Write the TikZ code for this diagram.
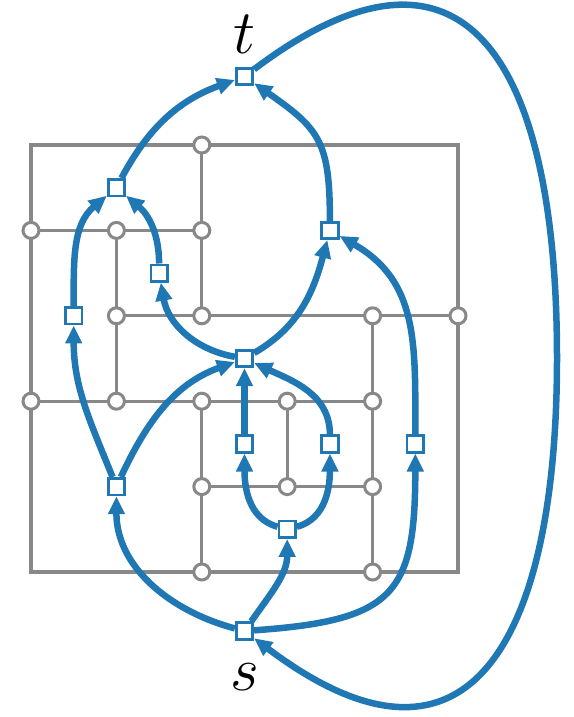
\documentclass[tikz,border=0pt]{standalone}
\usetikzlibrary{arrows.meta}
\definecolor{mblue}{HTML}{1F77B4}
\definecolor{mgray}{HTML}{888888}
\begin{document}
\begin{tikzpicture}[x=1pt,y=1pt,
  gridline/.style={mgray, line width=3.2pt},
  vtx/.style={circle, draw=mgray, fill=white, line width=3pt, minimum size=16pt, inner sep=0pt},
  sq/.style={rectangle, draw=mblue, fill=white, line width=2.7pt, minimum size=16.5pt, inner sep=0pt},
  edge/.style={draw=mblue, line width=6.5pt, -{Triangle[length=18pt,width=16pt]}},
  lab/.style={font=\fontsize{24.88}{26}\selectfont, inner sep=0pt}
]
\useasboundingbox (0,0) rectangle (573,-717);
% grid points
\foreach \i in {0,...,5}
  \foreach \j in {0,...,5}
    \coordinate (g\i\j) at ({31+85.4*\i},{-145-85.4*\j});
% gray lines
\draw[gridline] (g00) rectangle (g55);
\draw[gridline] (g01) -- (g21);
\draw[gridline] (g20) -- (g22);
\draw[gridline] (g11) -- (g13);
\draw[gridline] (g12) -- (g52);
\draw[gridline] (g03) -- (g43);
\draw[gridline] (g23) -- (g25);
\draw[gridline] (g42) -- (g45);
\draw[gridline] (g33) -- (g34);
\draw[gridline] (g24) -- (g44);
% gray vertices
\foreach \p in {20,01,11,21,12,22,42,52,03,13,23,33,43,24,34,44,25,45}
  \node[vtx] (v\p) at (g\p) {};
% blue vertices
\node[sq] (t) at (244.5,-76.5) {};
\node[sq] (A) at (116.4,-187.7) {};
\node[sq] (B) at (159.1,-273.1) {};
\node[sq] (C) at (73.7,-315.8) {};
\node[sq] (D) at (329.9,-230.4) {};
\node[sq] (M) at (244.5,-358.5) {};
\node[sq] (E) at (116.4,-486.6) {};
\node[sq] (F) at (244.5,-443.9) {};
\node[sq] (G) at (329.9,-443.9) {};
\node[sq] (H) at (287.2,-529.3) {};
\node[sq] (I) at (415.3,-443.9) {};
\node[sq] (s) at (244.5,-631) {};
\coordinate (r) at (557,-358);
% labels
\node[lab, anchor=base] (tl) at (244.5,-53) {\scalebox{2.5}{$t$}};
\node[lab, anchor=base] (sl) at (245,-690) {\scalebox{2.5}{$s$}};
% blue edges
\draw[edge] (A) to[out=62,in=200] (t);
\draw[edge] (D) to[out=90,in=-35,looseness=1.3] (t);
\draw[edge] (t) to[out=37,in=90,looseness=1.7] (r) to[out=-90,in=-37,looseness=1.7] (s);
\draw[edge] (C) to[out=90,in=220] (A);
\draw[edge] (B) to[out=90,in=-40] (A);
\draw[edge] (M) to[out=170,in=-80] (B);
\draw[edge] (M) to[out=30,in=-105] (D);
\draw[edge] (E) to[out=112,in=-90] (C);
\draw[edge] (E) to[out=65,in=200] (M);
\draw[edge] (F) -- (M);
\draw[edge] (G) to[out=90,in=-25] (M);
\draw[edge] (H) to[out=165,in=-90] (F);
\draw[edge] (H) to[out=15,in=-90] (G);
\draw[edge] (s) to[out=165,in=-90] (E);
\draw[edge] (s) to[out=55,in=-90] (H);
\draw[edge] (s) to[out=4,in=-90,looseness=1.5] (I);
\draw[edge] (I) to[out=90,in=-30,looseness=1.1] (D);
\end{tikzpicture}
\end{document}
